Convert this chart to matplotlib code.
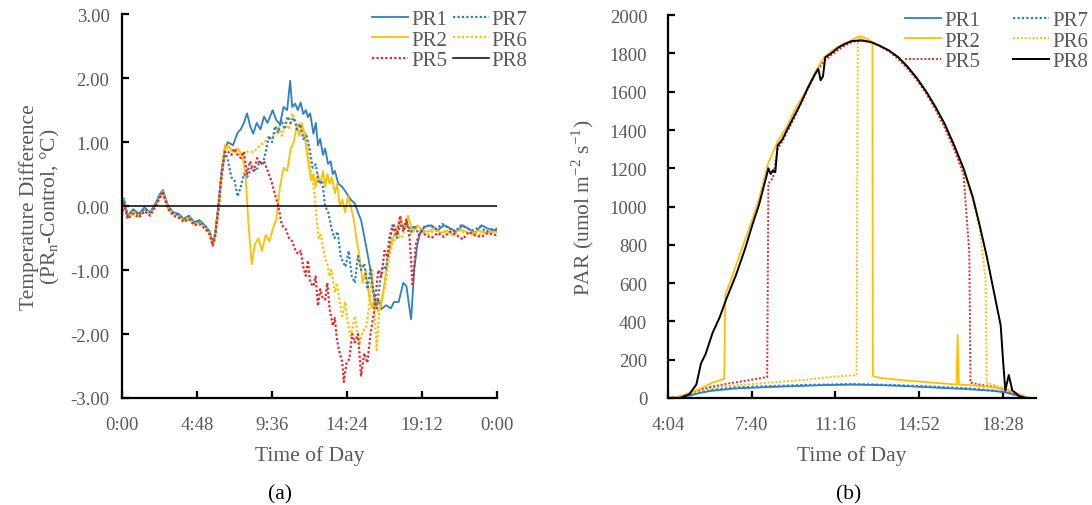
import matplotlib
matplotlib.use('Agg')
import matplotlib.pyplot as plt
from matplotlib.ticker import FormatStrFormatter

plt.rcParams['font.family'] = ['Liberation Serif', 'DejaVu Serif']
plt.rcParams['mathtext.fontset'] = 'custom'
plt.rcParams['mathtext.rm'] = 'Liberation Serif'
plt.rcParams['axes.unicode_minus'] = False

# ---------------- panel (a): temperature difference (hours of day, degC) ----------------
pr1_t = [0, 0.12, 0.36, 0.72, 1.08, 1.44, 1.8, 2.16, 2.4, 2.62, 2.95, 3.28, 3.62, 3.95, 4.28, 4.62, 4.95, 5.3, 5.62, 5.8,
         5.95, 6.16, 6.37, 6.58, 6.78, 7.1, 7.4, 7.6, 7.8, 8.0, 8.2, 8.4, 8.62, 8.86, 9.09, 9.31, 9.64, 9.86, 10.11,
         10.34, 10.57, 10.76, 10.89, 11.08, 11.25, 11.43, 11.6, 11.76, 11.9, 12.04, 12.25, 12.4, 12.54, 12.68, 12.86,
         13.0, 13.18, 13.35, 13.49, 13.62, 13.84, 14.1, 14.37, 14.64, 14.9, 15.1, 15.3, 15.6, 15.9, 16.2, 16.4, 16.6,
         16.9, 17.2, 17.4, 17.7, 18.0, 18.2, 18.4, 18.5, 18.7, 18.9, 19.1, 19.4, 19.8, 20.2, 20.6, 21.0, 21.4, 21.8,
         22.2, 22.6, 23.0, 23.4, 23.8, 24.0]
pr1_v = [-0.05, 0.12, -0.15, -0.05, -0.12, -0.02, -0.1, 0.05, 0.18, 0.25, 0.0, -0.1, -0.12, -0.2, -0.15, -0.25,
         -0.22, -0.3, -0.4, -0.58, -0.45, 0.0, 0.55, 0.9, 1.0, 0.95, 1.15, 1.2, 1.3, 1.45, 1.25, 1.13, 1.3, 1.2, 1.4,
         1.3, 1.5, 1.35, 1.28, 1.55, 1.5, 1.96, 1.55, 1.6, 1.5, 1.62, 1.44, 1.5, 1.39, 1.45, 1.13, 1.3, 0.95, 1.05, 0.8,
         0.9, 0.66, 0.7, 0.5, 0.55, 0.35, 0.3, 0.2, 0.1, 0.04, -0.1, -0.22, -0.6, -1.0, -1.56, -1.45, -1.61, -1.55,
         -1.6, -1.5, -1.5, -1.2, -1.25, -1.61, -1.77, -0.99, -0.6, -0.4, -0.32, -0.3, -0.38, -0.3, -0.35, -0.4, -0.3,
         -0.36, -0.42, -0.3, -0.35, -0.38, -0.35]

pr2_t = [0, 0.12, 0.36, 0.72, 1.08, 1.44, 1.8, 2.16, 2.4, 2.62, 2.95, 3.28, 3.62, 3.95, 4.28, 4.62, 4.95, 5.3, 5.62, 5.8,
         5.95, 6.16, 6.37, 6.58, 6.78, 7.1, 7.4, 7.7, 7.9, 8.1, 8.3, 8.5, 8.73, 8.95, 9.2, 9.43, 9.66, 9.88, 10.11,
         10.34, 10.57, 10.8, 10.99, 11.18, 11.35, 11.5, 11.66, 11.79, 11.97, 12.11, 12.25, 12.39, 12.54, 12.68, 12.86,
         13.0, 13.14, 13.28, 13.42, 13.63, 13.76, 13.94, 14.1, 14.28, 14.46, 14.64, 14.82, 15.0, 15.2, 15.4, 15.6,
         15.8, 16.0, 16.2, 16.4, 16.6, 16.8, 17.0, 17.2, 17.5, 17.8, 18.0, 18.3, 18.6, 18.9, 19.2, 19.6, 20.0, 20.4,
         20.8, 21.2, 21.6, 22.0, 22.4, 22.8, 23.2, 23.6, 24.0]
pr2_v = [-0.1, 0.1, -0.18, -0.08, -0.15, -0.05, -0.12, 0.02, 0.15, 0.22, -0.02, -0.12, -0.15, -0.22, -0.18, -0.28,
         -0.25, -0.32, -0.42, -0.6, -0.48, -0.05, 0.5, 0.9, 0.95, 0.85, 0.9, 0.8, 0.5, -0.3, -0.91, -0.6, -0.5, -0.7,
         -0.45, -0.55, -0.35, -0.2, 0.3, 0.6, 0.55, 0.9, 1.0, 1.25, 1.1, 1.3, 1.15, 0.9, 0.6, 0.4, 0.5, 0.3, 0.5, 0.35,
         0.55, 0.3, 0.5, 0.35, 0.45, 0.2, 0.35, 0.0, 0.1, -0.1, 0.15, 0.0, -0.2, -0.5, -0.8, -1.2, -1.0, -1.4, -1.6,
         -1.4, -1.65, -1.55, -1.2, -0.8, -0.6, -0.4, -0.2, -0.35, -0.15, -0.4, -0.3, -0.38, -0.4, -0.35, -0.42, -0.38,
         -0.45, -0.36, -0.4, -0.44, -0.38, -0.42, -0.4, -0.4]

pr5_t = [0, 0.12, 0.36, 0.72, 1.08, 1.44, 1.8, 2.16, 2.4, 2.62, 2.95, 3.28, 3.62, 3.95, 4.28, 4.62, 4.95, 5.3, 5.62, 5.8,
         5.95, 6.16, 6.37, 6.58, 6.78, 7.0, 7.2, 7.4, 7.6, 7.8, 8.0, 8.2, 8.43, 8.65, 8.86, 9.09, 9.32, 9.55, 9.77,
         10.0, 10.23, 10.46, 10.69, 10.89, 11.08, 11.25, 11.44, 11.6, 11.76, 11.9, 12.04, 12.25, 12.39, 12.54, 12.68,
         12.86, 13.0, 13.14, 13.28, 13.49, 13.62, 13.75, 13.93, 14.1, 14.19, 14.37, 14.55, 14.73, 14.9, 15.1, 15.3,
         15.5, 15.7, 15.9, 16.1, 16.4, 16.6, 16.8, 17.0, 17.2, 17.4, 17.6, 17.8, 18.0, 18.2, 18.4, 18.6, 18.8, 19.0,
         19.2, 19.4, 19.8, 20.2, 20.6, 21.0, 21.4, 21.8, 22.2, 22.6, 23.0, 23.4, 23.8, 24.0]
pr5_v = [-0.15, 0.05, -0.2, -0.12, -0.18, -0.08, -0.15, 0.0, 0.12, 0.2, -0.05, -0.15, -0.18, -0.25, -0.2, -0.3,
         -0.28, -0.35, -0.45, -0.62, -0.5, -0.1, 0.45, 0.85, 0.85, 0.8, 0.9, 0.8, 0.75, 0.85, 0.5, 0.7, 0.55, 0.75,
         0.65, 0.7, 0.55, 0.4, 0.2, 0.0, -0.3, -0.35, -0.5, -0.55, -0.68, -0.75, -0.7, -0.95, -1.09, -0.85, -1.2,
         -1.25, -1.1, -1.56, -1.3, -1.45, -1.46, -1.2, -1.6, -1.87, -1.75, -2.08, -2.3, -2.44, -2.75, -2.45, -2.39,
         -2.0, -2.13, -2.0, -2.65, -2.3, -2.45, -2.0, -1.7, -1.0, -1.1, -0.7, -0.8, -0.45, -0.3, -0.45, -0.15, -0.4,
         -0.2, -0.5, -1.25, -0.6, -0.45, -0.4, -0.45, -0.5, -0.42, -0.48, -0.4, -0.45, -0.52, -0.4, -0.46, -0.48,
         -0.42, -0.45, -0.45]

pr7_t = [0, 0.12, 0.36, 0.72, 1.08, 1.44, 1.8, 2.16, 2.4, 2.62, 2.95, 3.28, 3.62, 3.95, 4.28, 4.62, 4.95, 5.3, 5.62, 5.8,
         5.95, 6.16, 6.37, 6.6, 6.8, 7.0, 7.2, 7.4, 7.6, 7.8, 8.0, 8.3, 8.6, 8.8, 9.0, 9.2, 9.4, 9.6, 9.8, 10.0, 10.2,
         10.4, 10.6, 10.8, 11.0, 11.2, 11.4, 11.6, 11.8, 12.0, 12.2, 12.4, 12.6, 12.8, 13.0, 13.2, 13.4, 13.6, 13.8,
         14.0, 14.3, 14.5, 14.7, 14.9, 15.1, 15.3, 15.5, 15.7, 15.9, 16.1, 16.3, 16.5, 16.7, 16.9, 17.1, 17.3, 17.6,
         17.8, 18.0, 18.2, 18.5, 18.7, 19.0, 19.3, 19.7, 20.1, 20.5, 20.9, 21.3, 21.7, 22.1, 22.5, 22.9, 23.3, 23.7,
         24.0]
pr7_v = [-0.08, 0.1, -0.15, -0.06, -0.14, -0.04, -0.1, 0.03, 0.16, 0.23, -0.02, -0.1, -0.14, -0.2, -0.16, -0.26,
         -0.24, -0.3, -0.42, -0.58, -0.46, -0.02, 0.5, 0.85, 0.7, 0.45, 0.4, 0.15, 0.3, 0.5, 0.45, 0.6, 0.55, 0.7,
         0.65, 0.85, 1.1, 1.0, 1.25, 1.15, 1.35, 1.2, 1.4, 1.3, 1.38, 1.2, 1.28, 1.05, 1.1, 0.9, 0.6, 0.65, 0.35,
         0.4, 0.0, -0.1, -0.35, -0.5, -0.4, -0.8, -0.95, -0.7, -1.09, -1.2, -0.78, -1.0, -0.9, -1.3, -0.99, -1.35,
         -1.6, -1.2, -0.9, -1.0, -0.5, -0.3, -0.5, -0.3, -0.35, -0.25, -0.4, -0.3, -0.45, -0.33, -0.3, -0.36, -0.28,
         -0.34, -0.4, -0.3, -0.35, -0.38, -0.32, -0.4, -0.36, -0.38]

pr6_t = [0, 0.12, 0.36, 0.72, 1.08, 1.44, 1.8, 2.16, 2.4, 2.62, 2.95, 3.28, 3.62, 3.95, 4.28, 4.62, 4.95, 5.3, 5.62, 5.8,
         5.95, 6.16, 6.37, 6.58, 6.78, 7.2, 7.6, 8.0, 8.43, 8.86, 9.32, 9.77, 10.0, 10.23, 10.46, 10.69, 10.89, 11.08,
         11.25, 11.44, 11.6, 11.76, 11.9, 12.04, 12.18, 12.32, 12.45, 12.6, 12.72, 13.0, 13.14, 13.28, 13.4, 13.62,
         13.75, 13.93, 14.1, 14.28, 14.46, 14.64, 14.9, 15.2, 15.4, 15.6, 15.8, 16.0, 16.15, 16.3, 16.5, 16.8, 17.1,
         17.3, 17.6, 17.9, 18.2, 18.5, 18.8, 19.2, 19.6, 20.0, 20.4, 20.8, 21.2, 21.6, 22.0, 22.4, 22.8, 23.2, 23.6,
         24.0]
pr6_v = [-0.12, 0.08, -0.16, -0.1, -0.16, -0.06, -0.12, 0.02, 0.14, 0.24, -0.04, -0.12, -0.16, -0.22, -0.18, -0.28,
         -0.26, -0.32, -0.44, -0.6, -0.48, -0.05, 0.5, 0.95, 0.9, 0.85, 0.8, 0.85, 0.85, 0.95, 1.05, 1.1, 1.25, 1.1,
         1.3, 1.2, 1.45, 1.35, 1.25, 1.3, 1.1, 1.15, 0.9, 0.65, 0.4, 0.2, -0.2, -0.5, -0.45, -0.83, -0.9, -1.1, -1.0,
         -1.35, -1.2, -1.5, -1.72, -1.5, -1.85, -2.03, -1.72, -2.18, -1.95, -1.92, -1.6, -1.0, -1.6, -2.25, -1.5,
         -1.3, -0.8, -0.6, -0.45, -0.5, -0.3, -0.45, -0.35, -0.4, -0.44, -0.38, -0.42, -0.4, -0.46, -0.38, -0.42,
         -0.4, -0.45, -0.4, -0.42, -0.4]

pr8a_t = [0, 24]
pr8a_v = [0, 0]

a_ticks = [0, 4.8, 9.6, 14.4, 19.2, 24]
a_tick_labels = ['0:00', '4:48', '9:36', '14:24', '19:12', '0:00']

# ---------------- panel (b): PAR (hours of day, umol m-2 s-1) ----------------
par1_t = [4.08, 4.5, 5.0, 5.5, 6.0, 7.0, 8.0, 9.0, 10.0, 11.0, 12.0, 13.0, 14.0, 15.0, 16.0, 17.0, 18.0, 18.6, 19.2, 19.6]
par1_v = [0, 2, 12, 28, 38, 50, 55, 60, 64, 68, 70, 68, 64, 58, 52, 46, 38, 30, 10, 0]

par7_t = [4.08, 4.5, 5.0, 5.5, 6.0, 7.0, 8.0, 9.0, 10.0, 11.0, 12.0, 13.0, 14.0, 15.0, 16.0, 17.0, 18.0, 18.6, 19.2, 19.6]
par7_v = [0, 2, 14, 30, 42, 55, 60, 64, 68, 70, 72, 70, 66, 62, 56, 50, 40, 30, 12, 0]

par2_t = [4.08, 4.5, 5.0, 5.4, 6.0, 6.5, 6.55, 6.8, 7.2, 7.7, 8.0, 8.4, 8.8, 9.2, 9.6, 10.0, 10.4, 10.6, 10.8, 11.2,
          11.6, 12.0, 12.3, 12.6, 12.88, 12.9, 13.2, 14.0, 15.0, 16.0, 16.5, 16.55, 16.6, 17.0, 17.5, 18.5, 19.2, 19.6]
par2_v = [0, 5, 25, 45, 80, 100, 540, 620, 760, 930, 1040, 1230, 1340, 1420, 1520, 1600, 1700, 1740, 1780, 1820,
          1850, 1870, 1890, 1880, 1860, 115, 105, 95, 85, 75, 70, 330, 70, 68, 62, 50, 20, 0]

par5_t = [4.08, 4.5, 5.0, 5.5, 6.0, 6.5, 7.0, 7.5, 8.0, 8.35, 8.4, 8.6, 8.8, 9.0, 9.5, 10.0, 10.5, 10.8, 11.2, 11.6,
          12.0, 12.4, 12.8, 13.2, 13.6, 14.0, 14.4, 14.8, 15.2, 15.6, 16.0, 16.4, 16.8, 17.05, 17.1, 17.5, 18.0, 18.5,
          19.0, 19.4]
par5_v = [0, 5, 25, 45, 60, 72, 82, 92, 102, 110, 1120, 1150, 1300, 1340, 1460, 1590, 1710, 1760, 1800, 1835,
          1860, 1868, 1862, 1838, 1810, 1770, 1720, 1660, 1590, 1505, 1410, 1300, 1170, 760, 80, 70, 60, 45,
          25, 0]

par6_t = [4.08, 4.5, 5.0, 5.5, 6.0, 6.5, 7.0, 8.0, 9.0, 10.0, 11.0, 11.5, 12.0, 12.2, 12.25, 12.4, 12.6, 12.9,
          13.2, 13.6, 14.0, 14.4, 14.8, 15.2, 15.6, 16.0, 16.4, 16.8, 17.2, 17.5, 17.75, 17.8, 18.2, 18.6, 19.0, 19.4]
par6_v = [0, 5, 22, 40, 52, 60, 66, 76, 86, 95, 108, 115, 118, 120, 1880, 1875, 1868, 1860,
          1842, 1815, 1778, 1728, 1668, 1598, 1512, 1418, 1308, 1182, 1032, 880, 620, 80, 65, 50, 30, 0]

par8_t = [4.08, 4.6, 5.0, 5.3, 5.5, 5.7, 6.0, 6.3, 6.6, 7.0, 7.4, 7.7, 8.0, 8.3, 8.4, 8.5, 8.6, 8.7, 8.8, 9.0, 9.2,
          9.5, 9.8, 10.1, 10.4, 10.55, 10.65, 10.75, 10.85, 11.1, 11.4, 11.7, 12.0, 12.4, 12.8, 13.2, 13.6, 14.0,
          14.4, 14.8, 15.2, 15.6, 16.0, 16.4, 16.8, 17.2, 17.5, 17.8, 18.1, 18.4, 18.5, 18.6, 18.75, 18.9, 19.2, 19.5]
par8_v = [0, 0, 20, 70, 180, 230, 340, 420, 520, 640, 780, 900, 1010, 1150, 1200, 1170, 1190, 1180, 1320, 1350, 1400,
          1470, 1540, 1620, 1690, 1720, 1660, 1680, 1780, 1800, 1830, 1850, 1865, 1868, 1860, 1840, 1815, 1780,
          1730, 1670, 1600, 1520, 1430, 1320, 1200, 1050, 900, 740, 560, 380, 200, 40, 120, 40, 10, 0]

b_ticks = [4.08, 7.68, 11.28, 14.88, 18.48]
b_tick_labels = ['4:04', '7:40', '11:16', '14:52', '18:28']

BLUE = '#2e7fc6'
YELLOW = '#ffc000'
RED = '#e8262e'
GRAY = '#595959'
DOT = (0, (1, 1))

fig = plt.figure(figsize=(10.92, 5.06), dpi=100)
ax1 = fig.add_axes([0.1117, 0.2115, 0.3435, 0.7585])
ax2 = fig.add_axes([0.6117, 0.2115, 0.337, 0.7565])

# panel (a)
ax1.plot(pr1_t, pr1_v, color=BLUE, lw=1.3, label='PR1')
ax1.plot(pr2_t, pr2_v, color=YELLOW, lw=1.3, label='PR2')
ax1.plot(pr6_t, pr6_v, color=YELLOW, lw=1.6, ls=DOT, label='PR6')
ax1.plot(pr7_t, pr7_v, color=BLUE, lw=1.6, ls=DOT, label='PR7')
ax1.plot(pr5_t, pr5_v, color=RED, lw=1.6, ls=DOT, label='PR5')
ax1.plot(pr8a_t, pr8a_v, color='black', lw=1.1, label='PR8')

# panel (b)
ax2.plot(par1_t, par1_v, color=BLUE, lw=1.3, label='PR1')
ax2.plot(par7_t, par7_v, color=BLUE, lw=1.6, ls=DOT, label='PR7')
ax2.plot(par6_t, par6_v, color=YELLOW, lw=1.4, ls=DOT, label='PR6')
ax2.plot(par5_t, par5_v, color=RED, lw=1.4, ls=DOT, label='PR5')
ax2.plot(par2_t, par2_v, color=YELLOW, lw=1.3, label='PR2')
ax2.plot(par8_t, par8_v, color='black', lw=1.4, label='PR8')

order = ['PR1', 'PR2', 'PR5', 'PR7', 'PR6', 'PR8']
legend_opts = {ax1: ((1.115, 1.045), 0.3), ax2: ((1.175, 1.045), 1.6)}
for ax in (ax1, ax2):
    anchor, colsp = legend_opts[ax]
    for s in ('top', 'right'):
        ax.spines[s].set_visible(False)
    for s in ('left', 'bottom'):
        ax.spines[s].set_linewidth(1.6)
    ax.tick_params(direction='in', length=5, width=1.6, labelsize=13.5, labelcolor=GRAY)
    ax.tick_params(axis='x', pad=13)
    ax.set_xlabel('Time of Day', fontsize=15.5, color=GRAY, labelpad=9)
    h, l = ax.get_legend_handles_labels()
    hd = dict(zip(l, h))
    ax.legend([hd[k] for k in order], order, ncol=2, frameon=False, loc='upper right',
              bbox_to_anchor=anchor, fontsize=15, labelcolor=GRAY, handlelength=1.7,
              handletextpad=0.15, columnspacing=colsp, labelspacing=0.05, borderaxespad=0.2)

ax1.tick_params(axis='y', pad=9)
ax2.tick_params(axis='y', pad=15)

ax1.set_xlim(0, 24)
ax1.set_ylim(-3, 3)
ax1.set_xticks(a_ticks)
ax1.set_xticklabels(a_tick_labels)
ax1.set_yticks([-3, -2, -1, 0, 1, 2, 3])
ax1.yaxis.set_major_formatter(FormatStrFormatter('%.2f'))
ax1.set_ylabel('Temperature Difference\n(PR$_\\mathregular{n}$-Control, \u00b0C)', fontsize=15.5,
               color=GRAY, labelpad=6, linespacing=1.0)

ax2.set_xlim(4.08, 19.92)
ax2.set_ylim(0, 2000)
ax2.set_xticks(b_ticks)
ax2.set_xticklabels(b_tick_labels)
ax2.set_yticks(range(0, 2001, 200))
ax2.set_ylabel('PAR (umol m$^\\mathregular{-2}$ s$^\\mathregular{-1}$)', fontsize=15.5, color=GRAY, labelpad=10)

fig.text(0.256, 0.012, '(a)', fontsize=15.5, color='black', ha='center')
fig.text(0.777, 0.012, '(b)', fontsize=15.5, color='black', ha='center')

fig.savefig('out.png', dpi=100)
